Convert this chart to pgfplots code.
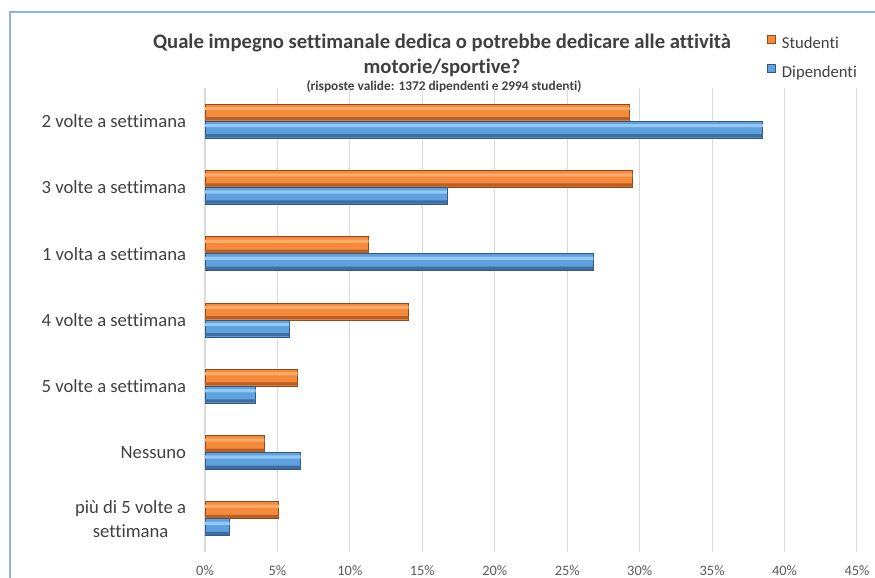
\documentclass[border=0pt]{standalone}
\usepackage{pgfplots}
\pgfplotsset{compat=1.18}
\usepackage{fontspec}
\setmainfont{Carlito}[Ligatures={NoCommon}]
\definecolor{orTop}{HTML}{FBAA6A}
\definecolor{orMid}{HTML}{F58A3A}
\definecolor{orBot}{HTML}{B85E26}
\definecolor{orDraw}{HTML}{8E4A1C}
\definecolor{blTop}{HTML}{92CAF4}
\definecolor{blMid}{HTML}{5FA0DE}
\definecolor{blBot}{HTML}{3D6E9F}
\definecolor{blDraw}{HTML}{36587E}
\definecolor{gridc}{HTML}{D9D9D9}
\definecolor{framec}{HTML}{8DB4E2}
\definecolor{txt}{HTML}{404040}
\definecolor{ticktxt}{HTML}{595959}
\pgfplotstableread{
y stud dip
0 29.3 38.5
1 29.5 16.7
2 11.3 26.8
3 14.05 5.8
4 6.4 3.5
5 4.1 6.6
6 5.1 1.7
}\datatab
\begin{document}
\begin{tikzpicture}[x=0.75pt,y=0.75pt]
\useasboundingbox (0,0) rectangle (875,578);
\draw[color=framec, line width=0.9pt] (10,0) -- (10,566) -- (875,566);
\node[align=center, text=txt, font=\fontsize{15.5}{18.75}\selectfont\bfseries] at (442,522.5) {Quale impegno settimanale dedica o potrebbe dedicare alle attività\\motorie/sportive?};
\node[text=txt, font=\fontsize{10}{12}\selectfont\bfseries] at (444,491) {(risposte valide: 1372 dipendenti e 2994 studenti)};
\begin{axis}[
  at={(153.75pt,19.5pt)}, anchor=south west,
  scale only axis, width=489pt, height=348pt,
  xbar, bar width=12.75pt,
  xmin=0, xmax=45, ymin=-0.5, ymax=6.5, y dir=reverse,
  xtick={0,5,...,45}, ytick={0,...,6},
  yticklabels={2 volte a settimana, 3 volte a settimana, 1 volta a settimana, 4 volte a settimana, 5 volte a settimana, Nessuno, {più di 5 volte a\\[2pt]settimana}},
  xticklabel={\pgfmathprintnumber{\tick}\%},
  /pgf/number format/assume math mode=true,
  xmajorgrids, grid style={gridc, line width=0.75pt},
  axis line style={draw=none}, major tick length=0pt,
  x tick label style={font=\fontsize{10.8}{13}\selectfont, text=ticktxt, inner sep=0pt, anchor=north, yshift=-10pt},
  y tick label style={font=\fontsize{14}{16}\selectfont, text=txt, inner sep=0pt, align=center, anchor=east, xshift=-14pt},
  legend style={at={(axis description cs:0.862,1.114)}, anchor=north west, draw=none, fill=none, inner sep=0pt,
    font=\fontsize{12.5}{14}\selectfont, text=txt, row sep=9pt,
    nodes={inner sep=0pt, text height=9pt, text depth=3pt},
    /tikz/every odd column/.append style={column sep=4.5pt}},
  legend cell align=left,
  legend image code/.code={\draw[#1, line width=0.5pt] (0pt,0.5pt) rectangle (6pt,6.5pt);},
]
% base bars
\addplot[bar shift=6.375pt, fill=orMid, draw=orDraw, line width=0.6pt] table[x=stud, y=y] {\datatab};
\addlegendentry{Studenti}
\addplot[bar shift=-6.375pt, fill=blMid, draw=blDraw, line width=0.6pt] table[x=dip, y=y] {\datatab};
\addlegendentry{Dipendenti}
% bevel highlights and shadows
\addplot[forget plot, bar width=2.4pt, bar shift=9.4pt, fill=orTop, draw=none] table[x=stud, y=y] {\datatab};
\addplot[forget plot, bar width=2.4pt, bar shift=1.8pt, fill=orBot, draw=none] table[x=stud, y=y] {\datatab};
\addplot[forget plot, bar width=2.4pt, bar shift=-3.35pt, fill=blTop, draw=none] table[x=dip, y=y] {\datatab};
\addplot[forget plot, bar width=2.4pt, bar shift=-10.95pt, fill=blBot, draw=none] table[x=dip, y=y] {\datatab};
\end{axis}
\end{tikzpicture}
\end{document}
